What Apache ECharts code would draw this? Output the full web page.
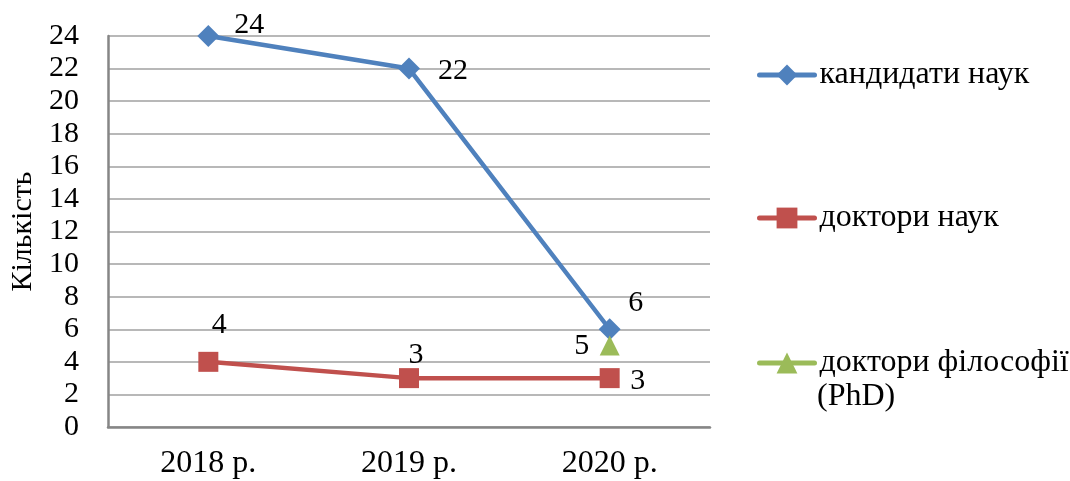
<!DOCTYPE html>
<html>
<head>
<meta charset="utf-8">
<script src="https://cdn.jsdelivr.net/npm/echarts@6/dist/echarts.min.js"></script>
<style>
  html, body { margin: 0; padding: 0; background: #fff; }
  #chart { width: 1070px; height: 481px; }
</style>
</head>
<body>
<div id="chart"></div>
<script>
const years = ['2018 р.', '2019 р.', '2020 р.']
const candidates = [24, 22, 6]
const doctors = [4, 3, 3]
const phd = [null, null, 5]
const seriesNames = ['кандидати наук', 'доктори наук', 'доктори філософії (PhD)']

// label offsets from each point (px)
const candOffsets = [[41, -11], [44, 3], [26, -26]]
const docOffsets = [[11, -37], [7, -23], [28, 3]]
const phdOffsets = [[0, 0], [0, 0], [-28, 1]]

const FONT = "'Liberation Serif', 'Times New Roman', serif"
const FS = 30

const withLabels = (values, offsets) =>
  values.map((v, i) => ({ value: v, label: { offset: offsets[i] } }))

const chart = echarts.init(document.getElementById('chart'))

const labelStyle = {
  show: true,
  position: 'inside',
  color: '#000',
  fontFamily: FONT,
  fontSize: FS
}

const legendText = { color: '#000', fontFamily: FONT, fontSize: 32, lineHeight: 26 }
const legendBase = {
  orient: 'vertical', left: 752, itemWidth: 55, itemHeight: 26, itemGap: 0,
  textStyle: legendText,
  lineStyle: { width: 5, cap: 'round' }
}

const option = {
  animation: false,
  backgroundColor: '#fff',
  grid: { left: 108, right: 360, top: 36, bottom: 54 },
  legend: [
    Object.assign({}, legendBase, { data: [seriesNames[0]], top: 54 }),
    Object.assign({}, legendBase, { data: [seriesNames[1]], top: 197 }),
    Object.assign({}, legendBase, {
      data: [seriesNames[2]], top: 342,
      formatter: () => 'доктори філософії'
    })
  ],
  graphic: [
    {
      type: 'text',
      left: 817,
      top: 381,
      style: { text: '(PhD)', fill: '#000', font: '32px ' + FONT }
    }
  ],
  xAxis: {
    type: 'category',
    data: years,
    boundaryGap: true,
    axisLine: { show: true, lineStyle: { color: '#868686', width: 2.5 } },
    axisTick: { show: false },
    axisLabel: { color: '#000', fontFamily: FONT, fontSize: 32, margin: 21 },
    splitLine: { show: false }
  },
  yAxis: {
    type: 'value',
    min: 0,
    max: 24,
    interval: 2,
    name: 'Кількість',
    nameLocation: 'middle',
    nameRotate: 90,
    nameGap: 68,
    nameTextStyle: { color: '#000', fontFamily: FONT, fontSize: FS },
    axisLine: { show: true, lineStyle: { color: '#868686', width: 2.5 } },
    axisTick: { show: false },
    axisLabel: { color: '#000', fontFamily: FONT, fontSize: FS, margin: 29 },
    splitLine: { show: true, lineStyle: { color: '#a0a0a0', width: 1.5 } }
  },
  series: [
    {
      name: seriesNames[0],
      type: 'line',
      data: withLabels(candidates, candOffsets),
      symbol: 'diamond',
      symbolSize: 22,
      itemStyle: { color: '#4F81BD' },
      lineStyle: { color: '#4F81BD', width: 4.5 },
      label: labelStyle
    },
    {
      name: seriesNames[1],
      type: 'line',
      data: withLabels(doctors, docOffsets),
      symbol: 'rect',
      symbolSize: 20,
      itemStyle: { color: '#C0504D' },
      lineStyle: { color: '#C0504D', width: 4.5 },
      label: labelStyle
    },
    {
      name: seriesNames[2],
      type: 'line',
      data: withLabels(phd, phdOffsets),
      symbol: 'triangle',
      symbolSize: 20,
      itemStyle: { color: '#9BBB59' },
      lineStyle: { color: '#9BBB59', width: 4.5 },
      label: labelStyle
    }
  ]
}

chart.setOption(option)
</script>
</body>
</html>
